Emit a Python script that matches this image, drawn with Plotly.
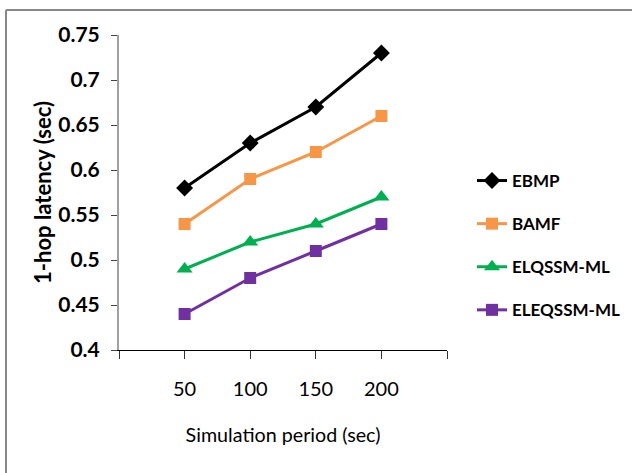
import plotly.graph_objects as go

periods = [50, 100, 150, 200]
ebmp = [0.58, 0.63, 0.67, 0.73]
bamf = [0.54, 0.59, 0.62, 0.66]
elqssm = [0.49, 0.52, 0.54, 0.57]
eleqssm = [0.44, 0.48, 0.51, 0.54]

x_tickvals = [0, 50, 100, 150, 200, 250]
x_ticktext = ["", "50", "100", "150", "200", ""]
y_tickvals = [0.4, 0.45, 0.5, 0.55, 0.6, 0.65, 0.7, 0.75]
y_ticktext = ["0.4", "0.45", "0.5", "0.55", "0.6", "0.65", "0.7", "0.75"]

series = [
    ("EBMP", ebmp, "#000000", "diamond", 13),
    ("BAMF", bamf, "#F79646", "square", 12),
    ("ELQSSM-ML", elqssm, "#00B050", "triangle-up", 14),
    ("ELEQSSM-ML", eleqssm, "#7030A0", "square", 12),
]

font_fam = "Lato, Open Sans, sans-serif"

fig = go.Figure()
for name, vals, col, sym, sz in series:
    fig.add_trace(go.Scatter(
        x=periods, y=vals, name=name, mode="lines+markers",
        line=dict(color=col, width=3),
        marker=dict(symbol=sym, size=sz, color=col),
        legendgroup=name,
    ))

L, R, T, B = 119, 447, 35, 350
W, H = 632, 473

def px(xp):
    return (xp - L) / (R - L)

def py(yp):
    return (B - yp) / (B - T)

fig.update_layout(
    width=W, height=H,
    margin=dict(l=L, r=W - R, t=T, b=H - B, autoexpand=False),
    plot_bgcolor="white", paper_bgcolor="white",
    font=dict(family=font_fam, color="#000000"),
    showlegend=True,
    legend=dict(
        x=px(472), y=py(163), xanchor="left", yanchor="top",
        font=dict(size=17, family=font_fam, color="#000000", weight="bold"),
        tracegroupgap=18, itemwidth=30, bgcolor="rgba(0,0,0,0)",
    ),
    xaxis=dict(
        range=[0, 250], tickvals=x_tickvals, ticktext=x_ticktext,
        showgrid=False, zeroline=False,
        showline=True, linecolor="#000000", linewidth=1,
        ticks="outside", ticklen=8, tickcolor="#333333", tickwidth=1,
        ticklabelstandoff=13,
        tickfont=dict(size=20, family=font_fam, color="#000000"),
        title=dict(text="Simulation period (sec)", font=dict(size=19.7, family=font_fam, color="#000000"), standoff=29),
    ),
    yaxis=dict(
        range=[0.4, 0.75], tickvals=y_tickvals, ticktext=y_ticktext,
        showgrid=False, zeroline=False,
        showline=True, linecolor="#A0A0A0", linewidth=2,
        ticks="outside", ticklen=6, tickcolor="#444444", tickwidth=1,
        ticklabelstandoff=7,
        tickfont=dict(size=21, family=font_fam, color="#000000", weight="bold"),
        title=dict(text="1-hop latency (sec)", font=dict(size=22, family=font_fam, color="#000000", weight="bold"), standoff=1),
    ),
    shapes=[
        dict(type="line", xref="paper", yref="paper", x0=px(6), x1=px(700), y0=py(10), y1=py(10),
             line=dict(color="#888888", width=2), layer="below"),
        dict(type="line", xref="paper", yref="paper", x0=px(6), x1=px(6), y0=py(10), y1=py(520),
             line=dict(color="#888888", width=2), layer="below"),
    ],
)

fig.write_html("out.html")
